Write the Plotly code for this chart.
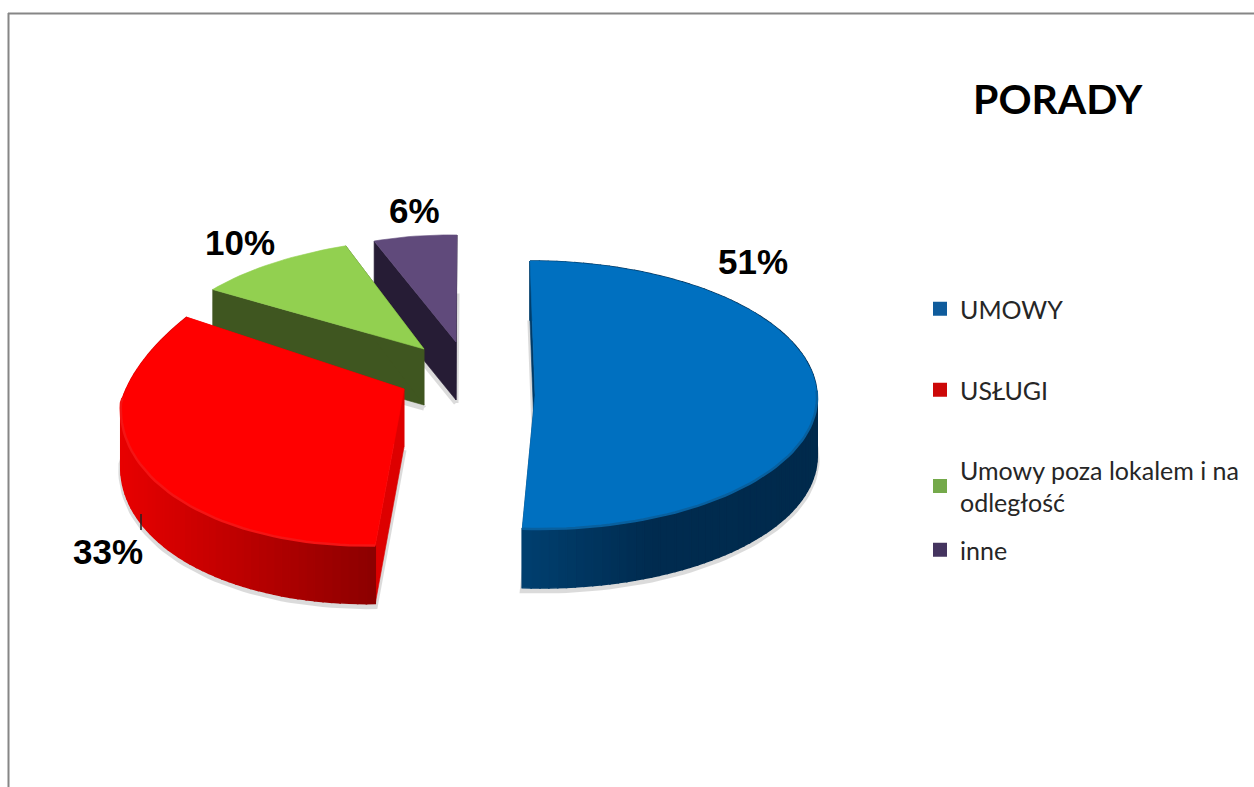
import math
import plotly.graph_objects as go

# ---- data
categories = ["UMOWY", "USŁUGI", "Umowy poza lokalem i na<br>odległość", "inne"]
values = [51, 33, 10, 6]
chart_title = "PORADY"

# ---- style / layout
W, H = 1254, 787
top_colors = ["#0070C0", "#FF0000", "#92D050", "#604A7B"]
cut_colors = ["#003A66", "#DD0000", "#3F5620", "#261C35"]
rim_colors = ["#08609F", "#F41414", None, None]
legend_colors = ["#0F5C9C", "#CC0808", "#74A94A", "#44345F"]
wall_ramps = [
    [(522, (0, 64, 112)), (650, (0, 44, 80)), (820, (0, 42, 76))],
    [(121, (232, 0, 0)), (375, (140, 0, 0))],
    None,
    None,
]
# per-slice projection: apex x, apex y, A, sh, B, c, q, depth
proj = [
    (535, 395, 282, -5, 134, 0, 0, 59),
    (404, 389, 283, 11, 156, -14, -35, 58),
    (424, 349, 263, 20, 111, 0, 0, 56),
    (456, 342, 225, 1, 107, 4, 0, 58),
]
label_pos = [(753, 261), (108, 551), (240, 242), (414, 210)]
legend_pos = [309, 390, 486, 550]


def rim(i, theta):
    ax, ay, A, sh, B, c, q, _ = proj[i]
    X, Y = math.sin(theta), math.cos(theta)
    return ax + A * X + sh * Y + q * X * max(Y, 0), ay - B * Y + c * X


def mix(ramp, x):
    if x <= ramp[0][0]:
        col = ramp[0][1]
    elif x >= ramp[-1][0]:
        col = ramp[-1][1]
    else:
        for (x0, c0), (x1, c1) in zip(ramp, ramp[1:]):
            if x0 <= x <= x1:
                t = (x - x0) / (x1 - x0)
                col = tuple(a + (b - a) * t for a, b in zip(c0, c1))
                break
    return "rgb(%d,%d,%d)" % tuple(col)


def poly(xs, ys, color, opacity=1.0, lw=0.6):
    return go.Scatter(x=xs, y=ys, mode="lines", fill="toself", fillcolor=color,
                      line=dict(color=color, width=lw), opacity=opacity,
                      showlegend=False, hoverinfo="skip")


total = sum(values)
starts, acc = [], 0
for v in values:
    starts.append(acc / total * 2 * math.pi)
    acc += v

fig = go.Figure()
order = [3, 2, 1, 0]
rims = {}
for i in order:
    a0 = starts[i]
    a1 = a0 + values[i] / total * 2 * math.pi
    n = max(8, int(values[i] * 2))
    rims[i] = [(a0 + (a1 - a0) * k / n, *rim(i, a0 + (a1 - a0) * k / n)) for k in range(n + 1)]

# soft shadows
for i in order:
    ax, ay, *_, d = proj[i]
    xs = [ax] + [p[1] for p in rims[i]] + [ax]
    ys = [ay + d + 3] + [p[2] + d + 3 for p in rims[i]] + [ay + d + 3]
    fig.add_trace(poly(xs, ys, "#8c8c8c", opacity=0.3, lw=5))

for i in order:
    ax, ay, *_, d = proj[i]
    pts = [(p[1], p[2]) for p in rims[i]]
    # cut walls
    for p in (pts[0], pts[-1]):
        fig.add_trace(poly([ax, p[0], p[0], ax, ax],
                           [ay, p[1], p[1] + d, ay + d, ay], cut_colors[i]))
    # outer wall with stepped shading
    if wall_ramps[i]:
        for p, r in zip(pts, pts[1:]):
            col = mix(wall_ramps[i], (p[0] + r[0]) / 2)
            fig.add_trace(poly([p[0], r[0], r[0], p[0], p[0]],
                               [p[1], r[1], r[1] + d, p[1] + d, p[1]], col, lw=1.6))
    # top face
    fig.add_trace(poly([ax] + [p[0] for p in pts] + [ax],
                       [ay] + [p[1] for p in pts] + [ay], top_colors[i]))
    # soft front rim
    if rim_colors[i]:
        front = [p for p in rims[i] if math.cos(p[0]) < 0.05]
        fig.add_trace(go.Scatter(x=[p[1] for p in front], y=[p[2] for p in front], mode="lines",
                                 line=dict(color=rim_colors[i], width=2.5),
                                 showlegend=False, hoverinfo="skip"))

# legend entries, one positioned legend per entry
legends = {}
for i, name in enumerate(categories):
    key = "legend" if i == 0 else f"legend{i + 1}"
    fig.add_trace(go.Scatter(x=[None], y=[None], mode="markers", name=name,
                             marker=dict(symbol="square", size=14, color=legend_colors[i]),
                             legend=key, showlegend=True, hoverinfo="skip"))
    legends[key] = dict(x=920 / W, y=1 - legend_pos[i] / H, xanchor="left", yanchor="middle",
                        bgcolor="rgba(0,0,0,0)", itemclick=False, itemdoubleclick=False,
                        font=dict(family="Lato", size=25, color="#262626"))

annotations = [dict(x=x, y=y, xref="x", yref="y", text=f"{v}%", showarrow=False,
                    font=dict(family="Liberation Sans", size=35, color="black", weight="bold"))
               for v, (x, y) in zip(values, label_pos)]
annotations.append(dict(x=1058, y=98, xref="x", yref="y", text=f"<b>{chart_title}</b>", showarrow=False,
                        font=dict(family="Lato", size=41, color="black")))

fig.update_layout(
    width=W, height=H, margin=dict(l=0, r=0, t=0, b=0),
    paper_bgcolor="white", plot_bgcolor="white",
    xaxis=dict(range=[0, W], visible=False, fixedrange=True),
    yaxis=dict(range=[H, 0], visible=False, fixedrange=True),
    annotations=annotations,
    shapes=[
        dict(type="line", xref="x", yref="y", x0=8, x1=W, y0=13.5, y1=13.5, line=dict(color="#868686", width=2)),
        dict(type="line", xref="x", yref="y", x0=8.5, x1=8.5, y0=13, y1=H, line=dict(color="#868686", width=2)),
        dict(type="line", xref="x", yref="y", x0=141, x1=141, y0=514, y1=530, line=dict(color="#222222", width=1.5)),
    ],
    **legends,
)
fig.write_html("out.html", config={"displayModeBar": False},
               post_script="document.body.style.margin='0';document.body.style.overflow='hidden';")
